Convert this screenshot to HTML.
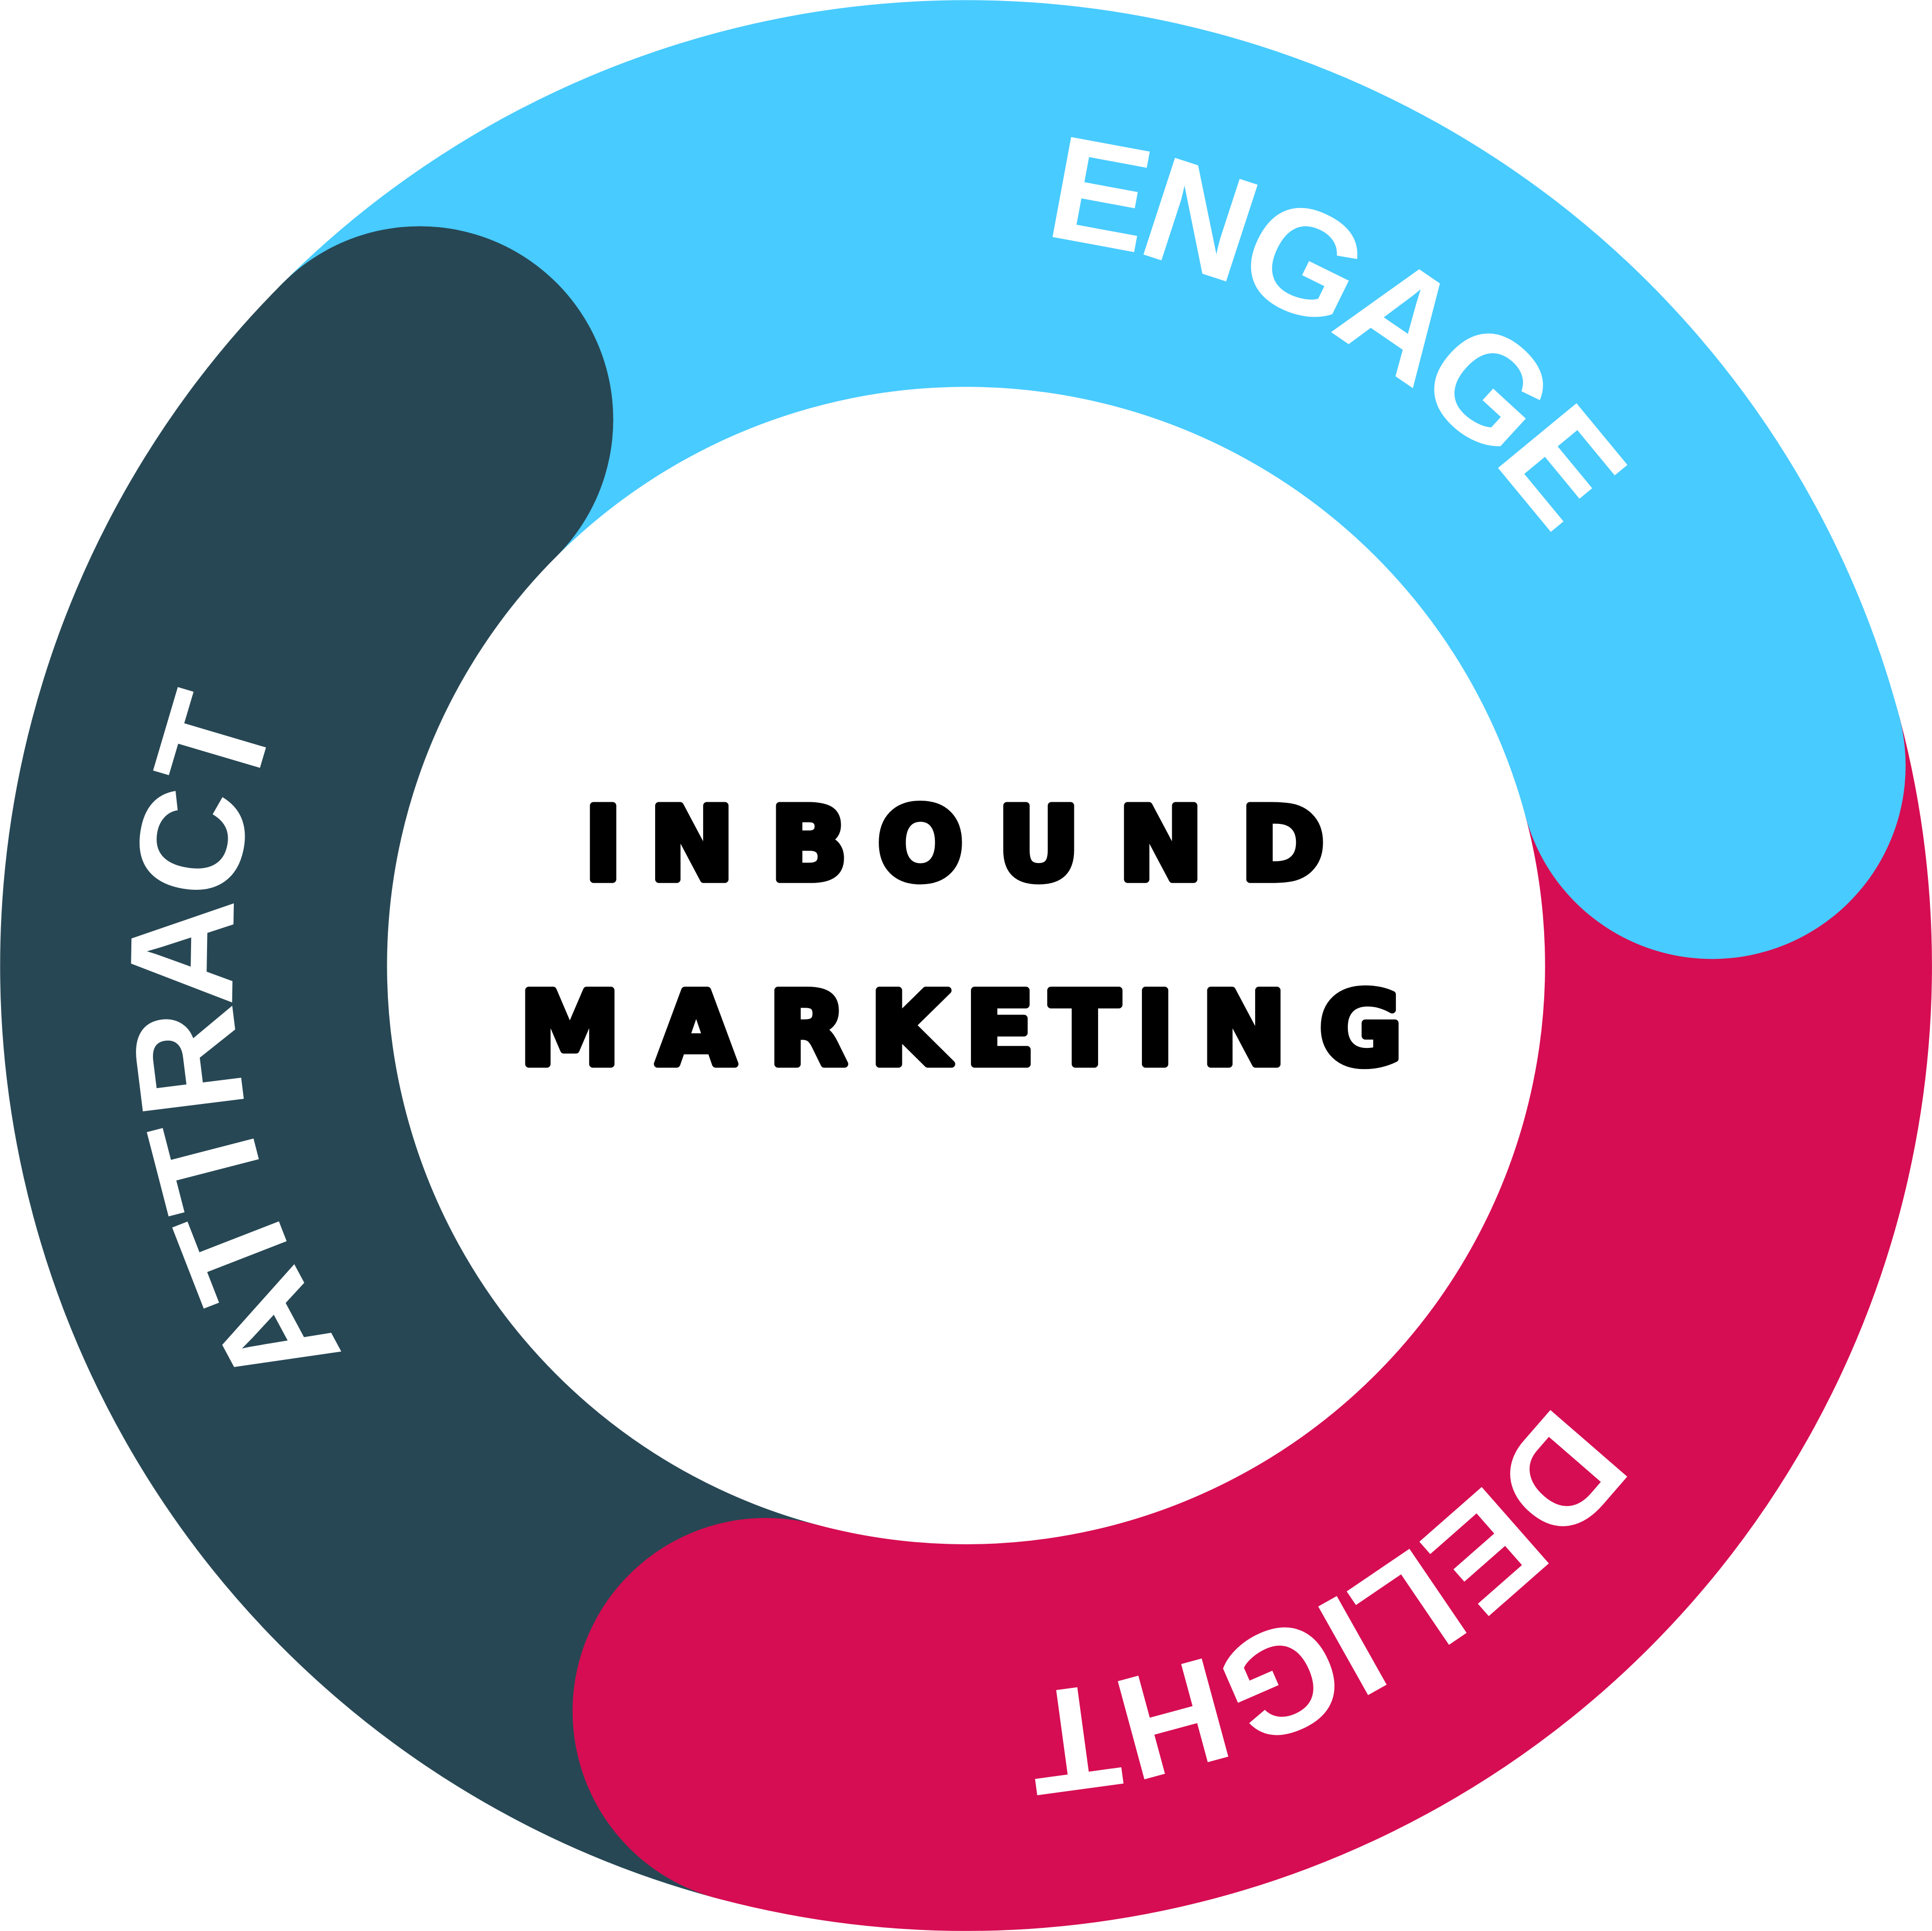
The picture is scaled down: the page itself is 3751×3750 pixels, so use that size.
<!DOCTYPE html>
<html><head><meta charset="utf-8"><style>
html,body{margin:0;padding:0;background:#fff;}
svg{display:block;}
.r{font-family:"Liberation Sans",sans-serif;font-weight:bold;}
.c{font-family:"DejaVu Sans",sans-serif;font-weight:bold;}
</style></head><body>
<svg width="3751" height="3750" viewBox="0 0 1568 1568" preserveAspectRatio="none" xmlns="http://www.w3.org/2000/svg">
<defs>
<path id="pE" d="M846.2 192.3 A595 595 0 0 1 721.8 1375.7"/>
<path id="pA" d="M279.4 1099.3 A595 595 0 0 1 1288.6 468.7"/>
<path id="pD" d="M1262.3 1137.9 A595 595 0 0 1 305.7 430.1"/>
</defs>
<rect width="1568" height="1568" fill="#fff"/>
<g fill="none" stroke-width="314">
<path d="M621.7 1389.6 A627 627 0 0 1 340.7 340.7" stroke="#274754"/>
<path d="M340.7 340.7 A627 627 0 0 1 1389.6 621.7" stroke="#48CBFF"/>
<path d="M1389.6 621.7 A627 627 0 0 1 621.7 1389.6" stroke="#D60D52"/>
</g>
<circle cx="340.7" cy="340.7" r="157" fill="#274754"/>
<circle cx="1389.6" cy="621.7" r="157" fill="#48CBFF"/>
<circle cx="621.7" cy="1389.6" r="157" fill="#D60D52"/>
<g class="r" fill="#fff" font-size="120">
<text><textPath href="#pE" textLength="495" lengthAdjust="spacing">ENGAGE</textPath></text>
<text><textPath href="#pA" textLength="540" lengthAdjust="spacing">ATTRACT</textPath></text>
<text><textPath href="#pD" textLength="509" lengthAdjust="spacing">DELIGHT</textPath></text>
</g>
<g class="c" fill="#000" stroke="#000" stroke-width="6" stroke-linejoin="round" font-size="82" text-anchor="middle">
<text x="489.5 561.5 656.5 747 843 942 1041" y="714">INBOUND</text>
<text x="462.5 565 655.5 738 811.5 880.5 937.5 1009.5 1104.5" y="864">MARKETING</text>
</g>
</svg>
</body></html>
